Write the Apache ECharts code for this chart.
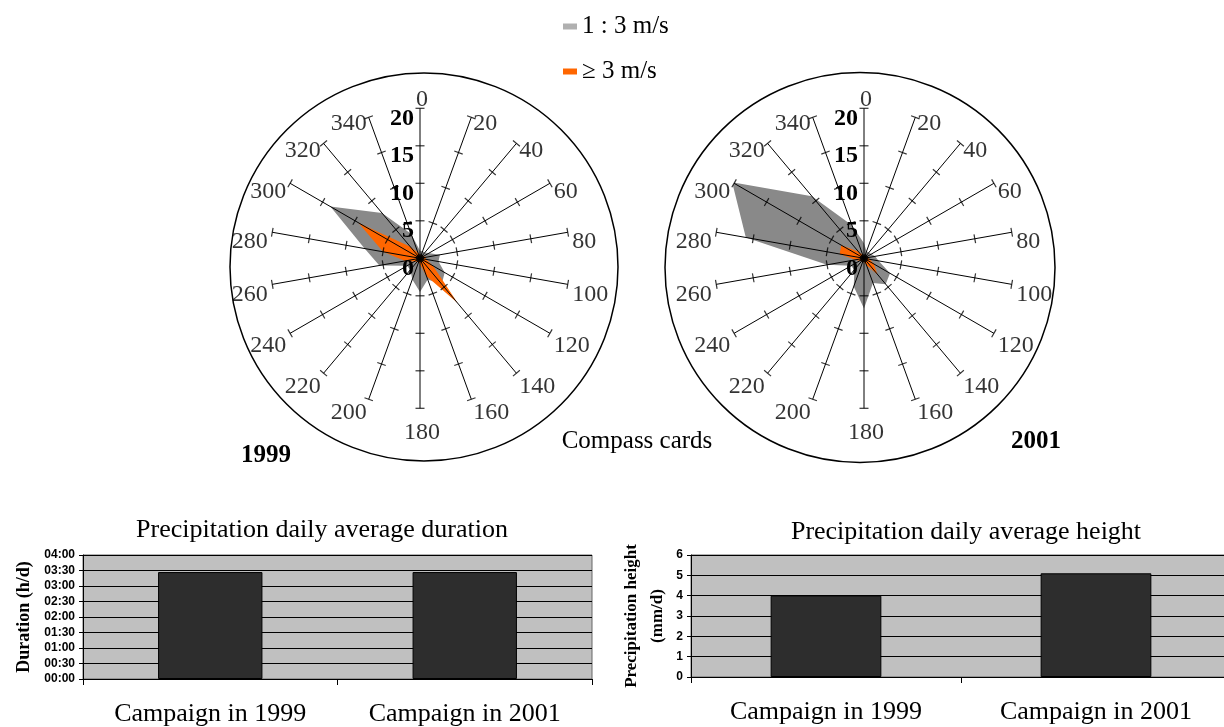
<!DOCTYPE html>
<html><head><meta charset="utf-8">
<script src="https://cdn.jsdelivr.net/npm/echarts@6.0.0/dist/echarts.min.js"></script>
<style>html,body{margin:0;padding:0;background:#fff}#c{width:1224px;height:727px}</style>
</head><body><div id="c"></div>
<script>
// ---- data ----
const directions = [0,20,40,60,80,100,120,140,160,180,200,220,240,260,280,300,320,340];
const radialTicks = [5,10,15,20];
const gray1999   = [1, 1, 1, 1, 2.7, 2.5, 3.8, 4.5, 3, 4.5, 3, 2, 2, 5.5, 7.5, 13.8, 7.9, 3.5];
const orange1999 = [0.5, 0.5, 0.5, 0.5, 0.8, 0.8, 2, 7.8, 2.5, 0.8, 0.5, 0.5, 0.5, 2, 5, 9.5, 2, 0.8];
const gray2001   = [2, 1, 1, 1, 1.5, 2, 4, 4.5, 3.5, 6.7, 4, 2, 2, 5, 16, 20.3, 10.8, 4.7];
const orange2001 = [0.5, 0.3, 0.3, 0.3, 0.5, 0.8, 1.5, 2.8, 1, 0.5, 0.5, 0.5, 0.5, 1.2, 3.3, 3.5, 1.2, 0.5];
const seriesNames = ['1 : 3 m/s', '\u2265 3 m/s'];
const campaigns = ['Campaign in 1999', 'Campaign in 2001'];
const durationHours = [3.45, 3.45];
const heightMm = [4.0, 5.1];

const SERIF = '"Liberation Serif","Times New Roman",serif';
const SANS = '"Liberation Sans",Arial,sans-serif';
const GRAY = '#898989';
const ORANGE = '#ff6600';

function closed(values){
  const pts = directions.map((d,i)=>[values[i], d]);
  pts.push([values[0], 360]);
  return pts;
}
function ticksData(){
  const out = [{value:[0,0], symbol:'circle', symbolSize:8, symbolRotate:0}];
  directions.forEach(d => radialTicks.forEach(r => out.push({value:[r,d], symbolRotate:-d})));
  return out;
}
function labelData(){
  const rMax = radialTicks[radialTicks.length-1];
  return directions.map(d => {
    const rad = d * Math.PI / 180;
    const s = Math.sin(rad), c = Math.cos(rad);
    const dist = 1 + 3 * s * s;
    const dy = -2 - 4 * c;
    let label;
    if (d === 0) label = {position:'top', distance:1, align:'center', verticalAlign:'bottom', offset:[2,5]};
    else if (d === 180) label = {position:'bottom', distance:12, align:'center', verticalAlign:'top', offset:[2,0]};
    else if (d < 180) label = {position:'right', distance:dist, align:'left', verticalAlign:'top', offset:[0,dy]};
    else label = {position:'left', distance:dist, align:'right', verticalAlign:'top', offset:[0,dy]};
    return {value:[rMax, d], label};
  });
}
function hhmm(v){
  const h = Math.floor(v + 1e-9);
  const m = Math.round((v - h) * 60);
  return String(h).padStart(2,'0') + ':' + String(m).padStart(2,'0');
}

function spokeAngle(idx){
  return {polarIndex:idx, type:'value', min:0, max:360, interval:20, startAngle:90, clockwise:true, z:3,
    axisLine:{show:false}, axisTick:{show:false}, axisLabel:{show:false},
    splitLine:{show:true, lineStyle:{color:'#000', width:1}}, splitArea:{show:false}};
}
function spokeRadius(idx){
  return {polarIndex:idx, type:'value', min:0, max:20, interval:5, z:3,
    axisLine:{show:false}, axisTick:{show:false}, splitLine:{show:false},
    axisLabel:{show:true, color:'#000', fontFamily:SERIF, fontWeight:'bold', fontSize:24, margin:6,
      verticalAlign:'top', lineHeight:20}};
}
function ringAngle(idx){
  return {polarIndex:idx, type:'value', min:0, max:360, startAngle:90, z:3,
    axisLine:{show:true, lineStyle:{color:'#000', width:1.5}}, axisTick:{show:false}, axisLabel:{show:false},
    splitLine:{show:false}, splitArea:{show:false}};
}
function ringRadius(idx){
  return {polarIndex:idx, type:'value', min:0, max:1, show:false, axisLine:{show:false}, axisTick:{show:false}, axisLabel:{show:false}, splitLine:{show:false}};
}
function roseSeries(polarIndex, grayVals, orangeVals, tag){
  return [
    {name:seriesNames[0], type:'line', coordinateSystem:'polar', polarIndex, data:closed(grayVals),
     symbol:'none', smooth:false, clip:false, z:1, lineStyle:{width:0, color:GRAY}, itemStyle:{color:GRAY},
     areaStyle:{color:GRAY, opacity:1}},
    {name:seriesNames[1], type:'line', coordinateSystem:'polar', polarIndex, data:closed(orangeVals),
     symbol:'none', smooth:false, clip:false, z:1, lineStyle:{width:0, color:ORANGE}, itemStyle:{color:ORANGE},
     areaStyle:{color:ORANGE, opacity:1}},
    {name:'ticks'+tag, type:'scatter', coordinateSystem:'polar', polarIndex, data:ticksData(),
     symbol:'rect', symbolSize:[9,1.2], z:4, silent:true, itemStyle:{color:'#000'}},
    {name:'labels'+tag, type:'scatter', coordinateSystem:'polar', polarIndex, data:labelData(),
     symbolSize:1, z:5, silent:true, itemStyle:{color:'transparent'},
     label:{show:true, formatter:p => String(p.value[1]), color:'#000', fontFamily:SERIF, fontSize:24}}
  ];
}

const chart = echarts.init(document.getElementById('c'), null, {renderer:'canvas'});
const option = {
  animation:false,
  backgroundColor:'#fff',
  title:[
    {text:'Compass cards', left:637, top:441, padding:0, textAlign:'center', textVerticalAlign:'middle',
     textStyle:{fontFamily:SERIF, fontSize:25, fontWeight:'normal', color:'#000'}},
    {text:'1999', left:266, top:456, padding:0, textAlign:'center', textVerticalAlign:'middle',
     textStyle:{fontFamily:SERIF, fontSize:25, fontWeight:'bold', color:'#000'}},
    {text:'2001', left:1036, top:442, padding:0, textAlign:'center', textVerticalAlign:'middle',
     textStyle:{fontFamily:SERIF, fontSize:25, fontWeight:'bold', color:'#000'}},
    {text:'Precipitation daily average duration', left:322, top:530, padding:0, textAlign:'center', textVerticalAlign:'middle',
     textStyle:{fontFamily:SERIF, fontSize:26, fontWeight:'normal', color:'#000'}},
    {text:'Precipitation daily average height', left:966, top:532, padding:0, textAlign:'center', textVerticalAlign:'middle',
     textStyle:{fontFamily:SERIF, fontSize:26, fontWeight:'normal', color:'#000'}}
  ],
  legend:{orient:'vertical', left:563, top:14, padding:0, itemWidth:14, itemHeight:6, itemGap:20, icon:'rect',
    textStyle:{fontFamily:SERIF, fontSize:25, color:'#000'},
    data:[{name:seriesNames[0], itemStyle:{color:'#b0b0b0'}}, {name:seriesNames[1], itemStyle:{color:ORANGE}}]},
  polar:[
    {center:[420,258.3], radius:150},
    {center:[424,267], radius:194},
    {center:[864,258.3], radius:150},
    {center:[860,267.5], radius:195}
  ],
  angleAxis:[spokeAngle(0), ringAngle(1), spokeAngle(2), ringAngle(3)],
  radiusAxis:[spokeRadius(0), ringRadius(1), spokeRadius(2), ringRadius(3)],
  grid:[
    {left:83, top:555, width:509, height:124, show:true, backgroundColor:'#c0c0c0', borderColor:'#666', borderWidth:1, outerBoundsMode:'none', containLabel:false},
    {left:691, top:555, width:540, height:122, show:true, backgroundColor:'#c0c0c0', borderColor:'#666', borderWidth:1, outerBoundsMode:'none', containLabel:false}
  ],
  xAxis:[
    {gridIndex:0, type:'category', data:campaigns, boundaryGap:true,
     axisLine:{show:true, lineStyle:{color:'#000', width:1}}, axisTick:{show:true, length:6, alignWithLabel:false, lineStyle:{color:'#000'}},
     axisLabel:{fontFamily:SERIF, fontSize:26, color:'#000', margin:22}, splitLine:{show:false}},
    {gridIndex:1, type:'category', data:campaigns, boundaryGap:true,
     axisLine:{show:true, lineStyle:{color:'#000', width:1}}, axisTick:{show:true, length:6, alignWithLabel:false, lineStyle:{color:'#000'}},
     axisLabel:{fontFamily:SERIF, fontSize:26, color:'#000', margin:22}, splitLine:{show:false}}
  ],
  yAxis:[
    {gridIndex:0, type:'value', min:0, max:4, interval:0.5,
     axisLine:{show:true, lineStyle:{color:'#000'}}, axisTick:{show:true, length:4, lineStyle:{color:'#000'}},
     splitLine:{show:true, lineStyle:{color:'#000', width:1}},
     axisLabel:{formatter:hhmm, fontFamily:SANS, fontWeight:'bold', fontSize:12, color:'#000', margin:8},
     name:'Duration (h/d)', nameLocation:'middle', nameGap:50,
     nameTextStyle:{fontFamily:SERIF, fontWeight:'bold', fontSize:18, color:'#000'}},
    {gridIndex:1, type:'value', min:0, max:6, interval:1,
     axisLine:{show:true, lineStyle:{color:'#000'}}, axisTick:{show:true, length:4, lineStyle:{color:'#000'}},
     splitLine:{show:true, lineStyle:{color:'#000', width:1}},
     axisLabel:{fontFamily:SANS, fontWeight:'bold', fontSize:12, color:'#000', margin:8},
     name:'Precipitation height\n(mm/d)', nameLocation:'middle', nameGap:20,
     nameTextStyle:{fontFamily:SERIF, fontWeight:'bold', fontSize:17, lineHeight:26, color:'#000'}}
  ],
  series:[
    ...roseSeries(0, gray1999, orange1999, '1999'),
    ...roseSeries(2, gray2001, orange2001, '2001'),
    {name:'duration', type:'bar', xAxisIndex:0, yAxisIndex:0, data:durationHours, barWidth:'41%',
     itemStyle:{color:'#2d2d2d', borderColor:'#000', borderWidth:1}},
    {name:'height', type:'bar', xAxisIndex:1, yAxisIndex:1, data:heightMm, barWidth:'41%',
     itemStyle:{color:'#2d2d2d', borderColor:'#000', borderWidth:1}}
  ]
};
chart.setOption(option);
</script>
</body></html>
